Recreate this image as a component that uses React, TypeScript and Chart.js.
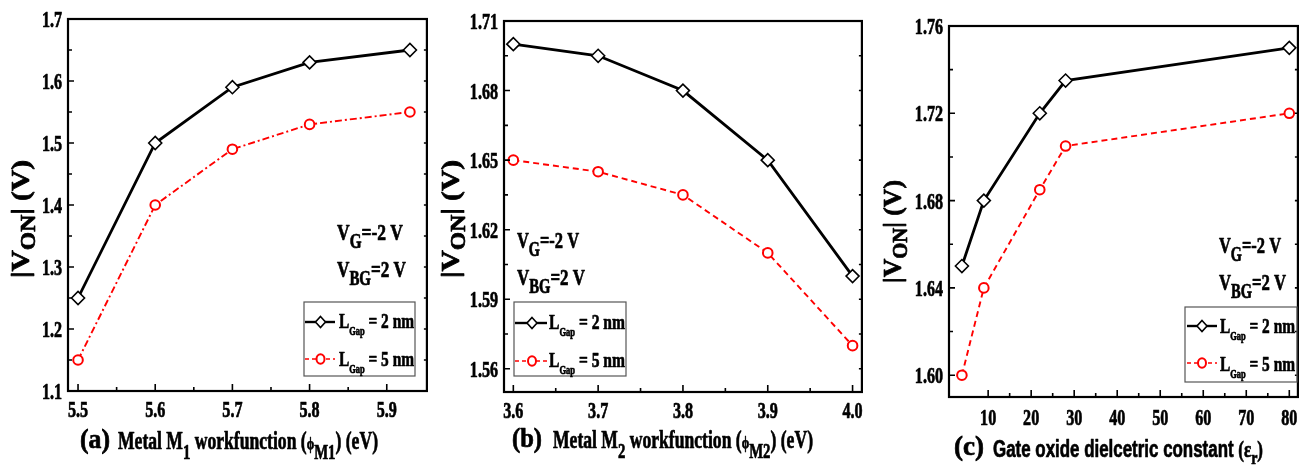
import React, { useEffect, useRef } from "react";
import { Chart, registerables } from "chart.js";

Chart.register(...registerables);

// ---------- DATA ----------
const xA = [5.5, 5.6, 5.7, 5.8, 5.93];
const gap2A = [1.25, 1.5, 1.59, 1.63, 1.65];
const gap5A = [1.15, 1.4, 1.49, 1.53, 1.55];
const xTicksA = [5.5, 5.6, 5.7, 5.8, 5.9];
const xTickLabelsA = ["5.5", "5.6", "5.7", "5.8", "5.9"];
const yTicksA = [1.1, 1.2, 1.3, 1.4, 1.5, 1.6, 1.7];
const yTickLabelsA = ["1.1", "1.2", "1.3", "1.4", "1.5", "1.6", "1.7"];

const xB = [3.6, 3.7, 3.8, 3.9, 4.0];
const gap2B = [1.7, 1.695, 1.68, 1.65, 1.6];
const gap5B = [1.65, 1.645, 1.635, 1.61, 1.57];
const xTicksB = [3.6, 3.7, 3.8, 3.9, 4.0];
const xTickLabelsB = ["3.6", "3.7", "3.8", "3.9", "4.0"];
const yTicksB = [1.56, 1.59, 1.62, 1.65, 1.68, 1.71];
const yTickLabelsB = ["1.56", "1.59", "1.62", "1.65", "1.68", "1.71"];

const xC = [3.9, 9, 22, 28, 80];
const gap2C = [1.65, 1.68, 1.72, 1.735, 1.75];
const gap5C = [1.6, 1.64, 1.685, 1.705, 1.72];
const xTicksC = [10, 20, 30, 40, 50, 60, 70, 80];
const xTickLabelsC = ["10", "20", "30", "40", "50", "60", "70", "80"];
const yTicksC = [1.6, 1.64, 1.68, 1.72, 1.76];
const yTickLabelsC = ["1.60", "1.64", "1.68", "1.72", "1.76"];

const legend2 = "= 2 nm";
const legend5 = "= 5 nm";

// ---------- STYLE / LAYOUT ----------
const SERIF = '"Liberation Serif", "Times New Roman", serif';
const SANS = '"Liberation Sans", Arial, sans-serif';
const RED = "#ff0000";
const HEAVY = 0.7;

type Run = { t: string; size: number; dy?: number; family?: string; weight?: string };

function runFont(r: Run) {
  return `${r.weight ?? "bold"} ${r.size}px ${r.family ?? SERIF}`;
}

function drawRuns(
  ctx: CanvasRenderingContext2D,
  runs: Run[],
  x: number,
  y: number,
  target: number,
  rotate = false,
  color = "#000"
) {
  let natural = 0;
  for (const r of runs) {
    ctx.font = runFont(r);
    natural += ctx.measureText(r.t).width;
  }
  const sx = target > 0 ? target / natural : 1;
  ctx.save();
  ctx.translate(x, y);
  if (rotate) ctx.rotate(-Math.PI / 2);
  ctx.scale(sx, 1);
  ctx.textAlign = "left";
  ctx.textBaseline = "alphabetic";
  ctx.fillStyle = color;
  ctx.strokeStyle = color;
  ctx.lineWidth = HEAVY;
  ctx.lineJoin = "round";
  let cx = 0;
  for (const r of runs) {
    ctx.font = runFont(r);
    ctx.fillText(r.t, cx, r.dy ?? 0);
    ctx.strokeText(r.t, cx, r.dy ?? 0);
    cx += ctx.measureText(r.t).width;
  }
  ctx.restore();
}

function drawLabel(
  ctx: CanvasRenderingContext2D,
  text: string,
  x: number,
  y: number,
  align: CanvasTextAlign,
  size = 23,
  sx = 0.7
) {
  ctx.save();
  ctx.translate(x, y);
  ctx.scale(sx, 1);
  ctx.font = `bold ${size}px ${SERIF}`;
  ctx.textAlign = align;
  ctx.textBaseline = "alphabetic";
  ctx.fillStyle = "#000";
  ctx.strokeStyle = "#000";
  ctx.lineWidth = HEAVY;
  ctx.lineJoin = "round";
  ctx.fillText(text, 0, 0);
  ctx.strokeText(text, 0, 0);
  ctx.restore();
}

type Panel = {
  key: string;
  left: number;
  width: number;
  yAxisW: number;
  xAxisH: number;
  padTop: number;
  padRight: number;
  xMin: number;
  xMax: number;
  yMin: number;
  yMax: number;
  x: number[];
  g2: number[];
  g5: number[];
  xTicks: number[];
  xLabels: string[];
  yTicks: number[];
  yLabels: string[];
  redDash: number[];
  xLabelOffset: number;
  yTitle: { x: number; y: number; len: number };
  tag: { t: string; x: number; w: number; base: number };
  xTitle: { runs: Run[]; x: number; end: number; base: number };
  annot: { x: number; y: number; end: number; sub: string; rest: string }[];
  legend: {
    box: [number, number, number, number];
    rows: [number, number];
    lineX: [number, number];
    markerX: number;
    textX: number;
    textEnd: number;
    base: [number, number];
  };
};

const panels: Panel[] = [
  {
    key: "a",
    left: 0,
    width: 435,
    yAxisW: 68,
    xAxisH: 76,
    padTop: 19,
    padRight: 8,
    xMin: 5.487,
    xMax: 5.952,
    yMin: 1.1,
    yMax: 1.7,
    x: xA,
    g2: gap2A,
    g5: gap5A,
    xTicks: xTicksA,
    xLabels: xTickLabelsA,
    yTicks: yTicksA,
    yLabels: yTickLabelsA,
    redDash: [7, 3, 2, 3],
    xLabelOffset: 26,
    yTitle: { x: 29, y: 278, len: 118 },
    tag: { t: "(a)", x: 80, w: 30, base: 448 },
    xTitle: {
      runs: [
        { t: "Metal M", size: 25 },
        { t: "1", size: 21, dy: 10 },
        { t: " workfunction (", size: 25 },
        { t: "\u03d5", size: 17 },
        { t: "M1", size: 21, dy: 10 },
        { t: ") (eV)", size: 25 },
      ],
      x: 118,
      end: 378,
      base: 449,
    },
    annot: [
      { x: 337, y: 240, end: 403, sub: "G", rest: "=-2 V" },
      { x: 337, y: 277, end: 406, sub: "BG", rest: "=2 V" },
    ],
    legend: {
      box: [304, 302, 415, 376],
      rows: [322, 359],
      lineX: [305, 335],
      markerX: 320.5,
      textX: 339,
      textEnd: 414,
      base: [328, 366],
    },
  },
  {
    key: "b",
    left: 435,
    width: 435,
    yAxisW: 69,
    xAxisH: 75,
    padTop: 21,
    padRight: 8,
    xMin: 3.589,
    xMax: 4.011,
    yMin: 1.55,
    yMax: 1.71,
    x: xB,
    g2: gap2B,
    g5: gap5B,
    xTicks: xTicksB,
    xLabels: xTickLabelsB,
    yTicks: yTicksB,
    yLabels: yTickLabelsB,
    redDash: [6, 4],
    xLabelOffset: 26,
    yTitle: { x: 459, y: 278, len: 118 },
    tag: { t: "(b)", x: 512, w: 30, base: 447 },
    xTitle: {
      runs: [
        { t: "Metal M", size: 25 },
        { t: "2", size: 21, dy: 10 },
        { t: " workfunction (", size: 25 },
        { t: "\u03d5", size: 17 },
        { t: "M2", size: 21, dy: 10 },
        { t: ") (eV)", size: 25 },
      ],
      x: 553,
      end: 813,
      base: 448,
    },
    annot: [
      { x: 517, y: 248, end: 579, sub: "G", rest: "=-2 V" },
      { x: 517, y: 285, end: 585, sub: "BG", rest: "=2 V" },
    ],
    legend: {
      box: [514, 302, 626, 376],
      rows: [323, 361],
      lineX: [515, 547],
      markerX: 532,
      textX: 549,
      textEnd: 625,
      base: [329, 367],
    },
  },
  {
    key: "c",
    left: 870,
    width: 436,
    yAxisW: 79,
    xAxisH: 70,
    padTop: 26,
    padRight: 1,
    xMin: 0.9,
    xMax: 82,
    yMin: 1.59,
    yMax: 1.76,
    x: xC,
    g2: gap2C,
    g5: gap5C,
    xTicks: xTicksC,
    xLabels: xTickLabelsC,
    yTicks: yTicksC,
    yLabels: yTickLabelsC,
    redDash: [6, 4],
    xLabelOffset: 28,
    yTitle: { x: 901, y: 283, len: 103 },
    tag: { t: "(c)", x: 954, w: 30, base: 455 },
    xTitle: {
      runs: [
        { t: "Gate oxide dielcetric constant ", size: 23, family: SANS },
        { t: "(\u03b5", size: 23 },
        { t: "r", size: 19, dy: 7 },
        { t: ")", size: 23 },
      ],
      x: 993,
      end: 1263,
      base: 457,
    },
    annot: [
      { x: 1219, y: 253, end: 1281, sub: "G", rest: "=-2 V" },
      { x: 1219, y: 290, end: 1286, sub: "BG", rest: "=2 V" },
    ],
    legend: {
      box: [1185, 307, 1297, 382],
      rows: [326, 363],
      lineX: [1187, 1217],
      markerX: 1202,
      textX: 1220,
      textEnd: 1295,
      base: [333, 371],
    },
  },
];

function decoPlugin(p: Panel) {
  const L = p.left;
  return {
    id: "deco_" + p.key,
    afterDatasetsDraw(chart: any) {
      const ctx: CanvasRenderingContext2D = chart.ctx;
      const a = chart.chartArea;
      const xs = chart.scales.x;
      const ys = chart.scales.y;
      ctx.save();
      ctx.strokeStyle = "#000";
      ctx.lineWidth = 1.6;
      ctx.beginPath();
      const xt = p.xTicks;
      for (let i = 0; i < xt.length; i++) {
        const px = xs.getPixelForValue(xt[i]);
        ctx.moveTo(px, a.bottom);
        ctx.lineTo(px, a.bottom - 7);
        if (i < xt.length - 1) {
          const mx = xs.getPixelForValue((xt[i] + xt[i + 1]) / 2);
          ctx.moveTo(mx, a.bottom);
          ctx.lineTo(mx, a.bottom - 4);
        }
      }
      const yt = p.yTicks;
      for (let i = 0; i < yt.length; i++) {
        const py = ys.getPixelForValue(yt[i]);
        ctx.moveTo(a.left, py);
        ctx.lineTo(a.left + 6, py);
        ctx.moveTo(a.right, py);
        ctx.lineTo(a.right - 3, py);
        if (i < yt.length - 1) {
          const my = ys.getPixelForValue((yt[i] + yt[i + 1]) / 2);
          ctx.moveTo(a.left, my);
          ctx.lineTo(a.left + 4, my);
          ctx.moveTo(a.right, my);
          ctx.lineTo(a.right - 3, my);
        }
      }
      ctx.stroke();
      ctx.lineWidth = 2.2;
      ctx.strokeRect(a.left, a.top, a.right - a.left, a.bottom - a.top);
      ctx.restore();
    },
    afterDraw(chart: any) {
      const ctx: CanvasRenderingContext2D = chart.ctx;
      const a = chart.chartArea;
      const xs = chart.scales.x;
      const ys = chart.scales.y;
      ctx.save();
      p.xTicks.forEach((v, i) => {
        drawLabel(ctx, p.xLabels[i], xs.getPixelForValue(v), a.bottom + p.xLabelOffset, "center");
      });
      p.yTicks.forEach((v, i) => {
        drawLabel(ctx, p.yLabels[i], a.left - 6, ys.getPixelForValue(v) + 8, "right");
      });
      drawRuns(
        ctx,
        [
          { t: "|V", size: 25 },
          { t: "ON", size: 20, dy: 6 },
          { t: "| (V)", size: 25 },
        ],
        p.yTitle.x - L,
        p.yTitle.y,
        p.yTitle.len,
        true
      );
      drawRuns(ctx, [{ t: p.tag.t, size: 28 }], p.tag.x - L, p.tag.base, p.tag.w);
      drawRuns(ctx, p.xTitle.runs, p.xTitle.x - L, p.xTitle.base, p.xTitle.end - p.xTitle.x);
      for (const an of p.annot) {
        drawRuns(
          ctx,
          [
            { t: "V", size: 23 },
            { t: an.sub, size: 20, dy: 8 },
            { t: an.rest, size: 23 },
          ],
          an.x - L,
          an.y,
          an.end - an.x
        );
      }
      const lg = p.legend;
      ctx.strokeStyle = "#555";
      ctx.lineWidth = 1.2;
      ctx.strokeRect(lg.box[0] - L, lg.box[1], lg.box[2] - lg.box[0], lg.box[3] - lg.box[1]);
      const rowsDef = [
        { color: "#000", dash: [] as number[], w: 2.4, text: legend2, marker: "d" },
        { color: RED, dash: [4, 3], w: 1.6, text: legend5, marker: "c" },
      ];
      rowsDef.forEach((r, i) => {
        const y = lg.rows[i];
        ctx.save();
        ctx.strokeStyle = r.color;
        ctx.lineWidth = r.w;
        ctx.setLineDash(r.dash);
        ctx.beginPath();
        ctx.moveTo(lg.lineX[0] - L, y);
        ctx.lineTo(lg.lineX[1] - L, y);
        ctx.stroke();
        ctx.setLineDash([]);
        const mx = lg.markerX - L;
        ctx.fillStyle = "#fff";
        ctx.beginPath();
        if (r.marker === "d") {
          ctx.moveTo(mx, y - 5.5);
          ctx.lineTo(mx + 5, y);
          ctx.lineTo(mx, y + 5.5);
          ctx.lineTo(mx - 5, y);
          ctx.closePath();
          ctx.lineWidth = 1.6;
        } else {
          ctx.ellipse(mx, y, 4, 4.8, 0, 0, Math.PI * 2);
          ctx.lineWidth = 2;
        }
        ctx.fill();
        ctx.stroke();
        ctx.restore();
        drawRuns(
          ctx,
          [
            { t: "L", size: 22 },
            { t: "Gap", size: 12, dy: 7 },
            { t: " " + r.text, size: 22 },
          ],
          lg.textX - L,
          lg.base[i],
          lg.textEnd - lg.textX
        );
      });
      ctx.restore();
    },
  };
}

function PanelChart({ p }: { p: Panel }) {
  const ref = useRef<HTMLCanvasElement | null>(null);
  useEffect(() => {
    if (!ref.current) return;
    const chart = new Chart(ref.current, {
      type: "line",
      data: {
        datasets: [
          {
            label: "LGap = 2 nm",
            data: p.x.map((x, i) => ({ x, y: p.g2[i] })),
            borderColor: "#000",
            borderWidth: 2.8,
            pointStyle: "rectRot",
            pointRadius: 6.5,
            pointBorderWidth: 1.6,
            pointBackgroundColor: "#fff",
            pointBorderColor: "#000",
            tension: 0,
            fill: false,
            clip: false,
          },
          {
            label: "LGap = 5 nm",
            data: p.x.map((x, i) => ({ x, y: p.g5[i] })),
            borderColor: RED,
            borderWidth: 1.9,
            borderDash: p.redDash,
            pointStyle: "circle",
            pointRadius: 4.8,
            pointBorderWidth: 2,
            pointBackgroundColor: "#fff",
            pointBorderColor: RED,
            tension: 0,
            fill: false,
            clip: false,
          },
        ],
      } as any,
      options: {
        responsive: false,
        animation: false,
        devicePixelRatio: 1,
        layout: { padding: { left: 0, top: p.padTop, right: p.padRight, bottom: 0 } },
        plugins: { legend: { display: false }, tooltip: { enabled: false } },
        scales: {
          x: {
            type: "linear",
            min: p.xMin,
            max: p.xMax,
            grid: { display: false, drawTicks: false },
            border: { display: false },
            ticks: { display: false },
            afterBuildTicks: (s: any) => {
              s.ticks = p.xTicks.map((v) => ({ value: v }));
            },
            afterFit: (s: any) => {
              s.height = p.xAxisH;
            },
          },
          y: {
            type: "linear",
            min: p.yMin,
            max: p.yMax,
            grid: { display: false, drawTicks: false },
            border: { display: false },
            ticks: { display: false },
            afterBuildTicks: (s: any) => {
              s.ticks = p.yTicks.map((v) => ({ value: v }));
            },
            afterFit: (s: any) => {
              s.width = p.yAxisW;
            },
          },
        },
      } as any,
      plugins: [decoPlugin(p)],
    });
    return () => chart.destroy();
  }, [p]);
  return (
    <canvas
      ref={ref}
      width={p.width}
      height={467}
      style={{ position: "absolute", left: p.left, top: 0, width: p.width, height: 467, display: "block" }}
    />
  );
}

export default function App() {
  return (
    <div
      style={{
        position: "absolute",
        left: 0,
        top: 0,
        width: 1306,
        height: 467,
        background: "#fff",
        overflow: "hidden",
      }}
    >
      {panels.map((p) => (
        <PanelChart key={p.key} p={p} />
      ))}
    </div>
  );
}
